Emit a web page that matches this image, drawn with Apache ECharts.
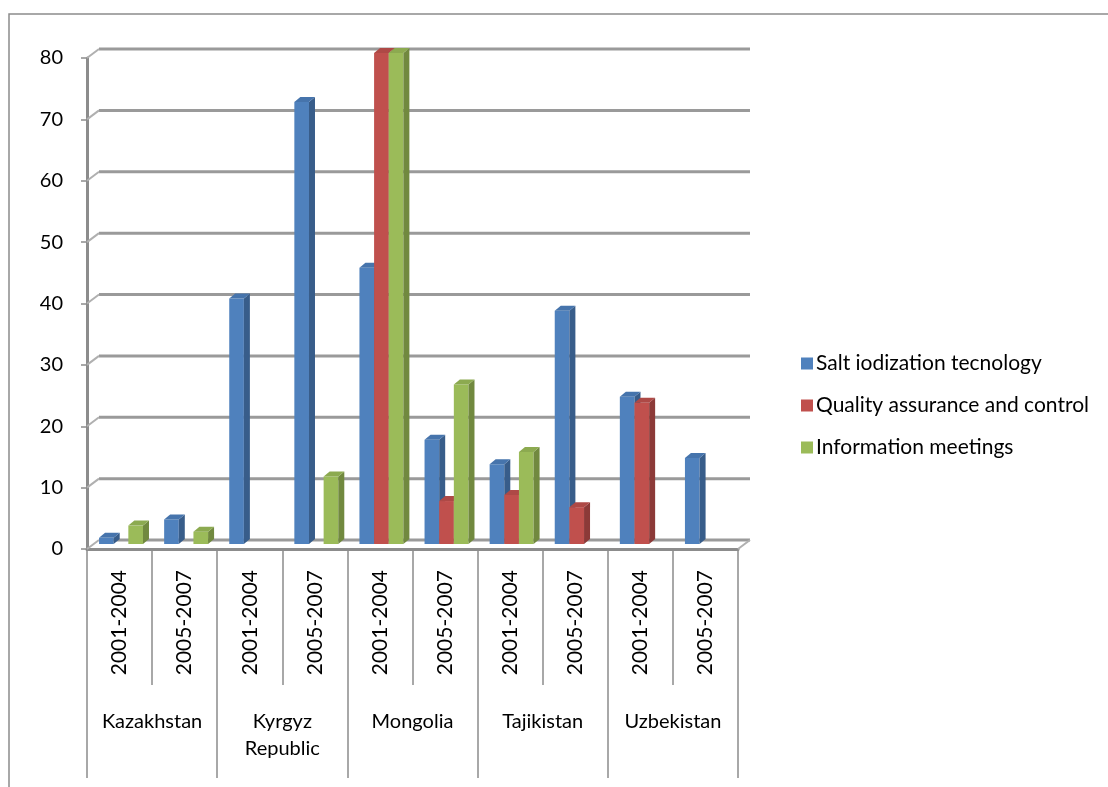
<!DOCTYPE html>
<html>
<head>
<meta charset="utf-8">
<script src="https://cdn.jsdelivr.net/npm/echarts@6/dist/echarts.min.js"></script>
<style>
  html, body { margin: 0; padding: 0; background: #fff; }
  #chart { width: 1108px; height: 787px; }
</style>
</head>
<body>
<div id="chart"></div>
<script>
// Training activities by country and period
const periods = ['2001-2004', '2005-2007', '2001-2004', '2005-2007', '2001-2004',
                 '2005-2007', '2001-2004', '2005-2007', '2001-2004', '2005-2007'];
const countries = ['Kazakhstan', 'Kyrgyz\nRepublic', 'Mongolia', 'Tajikistan', 'Uzbekistan'];
const seriesNames = ['Salt iodization tecnology', 'Quality assurance and control', 'Information meetings'];
const saltTech = [1, 4, 40, 72, 45, 17, 13, 38, 24, 14];
const quality = [0, 0, 0, 0, 80, 7, 8, 6, 23, 0];
const infoMeetings = [3, 2, 0, 11, 80, 26, 15, 0, 0, 0];
const yTicks = [0, 10, 20, 30, 40, 50, 60, 70, 80];

const FONT = 'Lato, "Open Sans", sans-serif';
const palette = [
  { front: '#4F81BD', side: '#385D8A', top: '#4674AC' },
  { front: '#C0504D', side: '#8C3A38', top: '#AE4946' },
  { front: '#9BBB59', side: '#71893F', top: '#8CAA50' }
];

// depth of the back wall and of the bars (pseudo 3D)
const WALL_DX = 12, WALL_DY = 9;
const BAR_DX = 6, BAR_DY = 5, BAR_SHIFT_Y = 5;

function barRenderer(idx) {
  const c = palette[idx];
  return function (params, api) {
    const cat = api.value(0);
    const v = api.value(1);
    if (!v) return null;
    const band = api.size([1, 0])[0];
    const base = api.coord([cat, 0]);
    const topPt = api.coord([cat, v]);
    const w = band * 0.225;
    const x0 = base[0] - band / 2 + band * 0.185 + idx * w;
    const x1 = x0 + w;
    const yb = base[1] - BAR_SHIFT_Y;
    const yt = topPt[1] - BAR_SHIFT_Y;
    return {
      type: 'group',
      children: [
        { type: 'rect', shape: { x: x0, y: yt, width: w, height: yb - yt },
          style: { fill: c.front } },
        { type: 'polygon', shape: { points: [[x1, yt], [x1 + BAR_DX, yt - BAR_DY], [x1 + BAR_DX, yb - BAR_DY], [x1, yb]] },
          style: { fill: c.side } },
        { type: 'polygon', shape: { points: [[x0, yt], [x1, yt], [x1 + BAR_DX, yt - BAR_DY], [x0 + BAR_DX, yt - BAR_DY]] },
          style: { fill: c.top } }
      ]
    };
  };
}

// back wall gridlines with their slanted links to the front value axis
function wallRenderer(params, api) {
  const v = api.value(1);
  const cs = params.coordSys;
  const y = api.coord([0, v])[1];
  const left = cs.x, right = cs.x + cs.width;
  const children = [
    { type: 'line', shape: { x1: left + WALL_DX, y1: y - WALL_DY, x2: right + WALL_DX, y2: y - WALL_DY },
      style: { stroke: '#9a9a9a', lineWidth: 3 } },
    { type: 'line', shape: { x1: left, y1: y, x2: left + WALL_DX, y2: y - WALL_DY },
      style: { stroke: '#b0b0b0', lineWidth: 2 } }
  ];
  if (v === 0) {
    children.push({ type: 'line', shape: { x1: right, y1: y, x2: right + WALL_DX, y2: y - WALL_DY },
      style: { stroke: '#b0b0b0', lineWidth: 2 } });
  }
  return { type: 'group', children };
}

const seriesData = [saltTech, quality, infoMeetings];

const chart = echarts.init(document.getElementById('chart'), null, { renderer: 'canvas' });
chart.setOption({
  backgroundColor: '#ffffff',
  animation: false,
  textStyle: { fontFamily: FONT },
  graphic: [
    { type: 'rect', shape: { x: 9, y: 14, width: 1200, height: 900 },
      style: { fill: 'none', stroke: '#8c8c8c', lineWidth: 1.5 }, silent: true }
  ],
  legend: {
    orient: 'vertical',
    left: 796,
    top: 348,
    icon: 'rect',
    itemWidth: 12,
    itemHeight: 12,
    itemGap: 21,
    data: seriesNames,
    textStyle: { fontFamily: FONT, fontSize: 21, color: '#000', padding: [0, 0, 0, -2] }
  },
  grid: { left: 87, top: 58, width: 651, height: 491, containLabel: false },
  xAxis: [
    {
      type: 'category',
      data: periods,
      position: 'bottom',
      axisLine: { show: true, lineStyle: { color: '#8c8c8c', width: 3 } },
      axisTick: { show: true, interval: 0, length: 136, lineStyle: { color: '#8c8c8c', width: 1.5 } },
      axisLabel: { interval: 0, rotate: 90, margin: 21, fontFamily: FONT, fontSize: 21, color: '#000' },
      splitLine: { show: false }
    },
    {
      type: 'category',
      data: countries,
      position: 'bottom',
      axisLine: { show: false },
      axisTick: { show: true, interval: 0, length: 229, lineStyle: { color: '#8c8c8c', width: 1.5 } },
      axisLabel: { interval: 0, margin: 159, fontFamily: FONT, fontSize: 20, lineHeight: 27, color: '#000' },
      splitLine: { show: false }
    }
  ],
  yAxis: {
    type: 'value',
    min: 0,
    max: 80,
    interval: 10,
    axisLine: { show: true, lineStyle: { color: '#8c8c8c', width: 3 } },
    axisTick: { show: true, length: 6, lineStyle: { color: '#8c8c8c', width: 1.5 } },
    axisLabel: { margin: 24, fontFamily: FONT, fontSize: 20, color: '#000' },
    splitLine: { show: false }
  },
  series: [
    {
      name: 'wall',
      type: 'custom',
      xAxisIndex: 0,
      renderItem: wallRenderer,
      data: yTicks.map(v => [0, v]),
      silent: true,
      z: 1
    }
  ].concat(seriesData.map((vals, i) => ({
    name: seriesNames[i],
    type: 'custom',
    xAxisIndex: 0,
    itemStyle: { color: palette[i].front },
    renderItem: barRenderer(i),
    data: vals.map((v, k) => [k, v]),
    encode: { x: 0, y: 1 },
    z: 2 + i
  })))
});
</script>
</body>
</html>
